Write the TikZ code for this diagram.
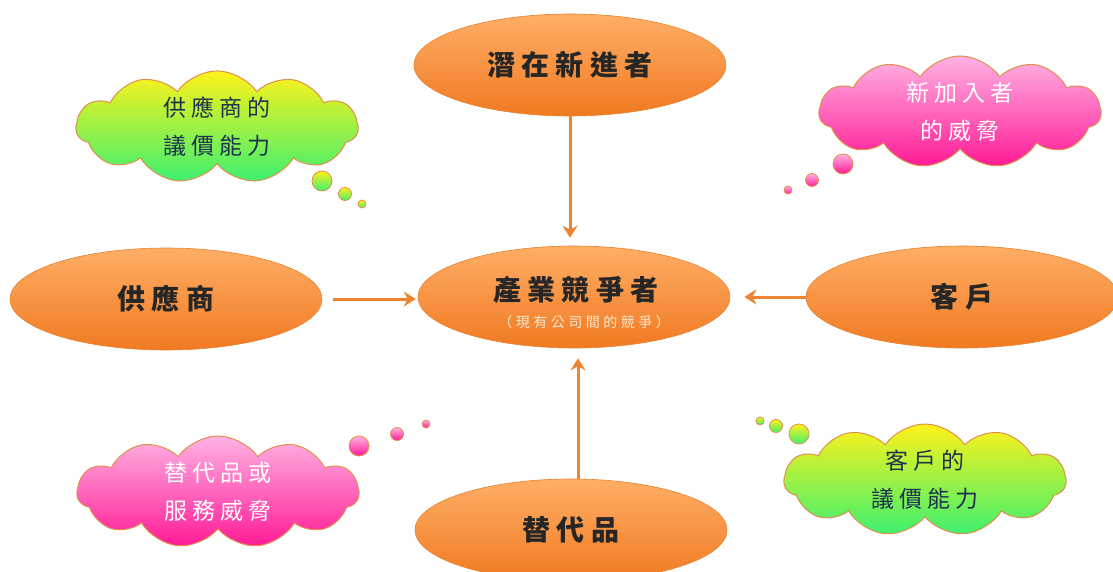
\documentclass[tikz,border=0pt]{standalone}
\usepackage{fontspec}
\setmainfont{Noto Sans CJK TC}
\usetikzlibrary{shapes.geometric,shapes.symbols,arrows.meta}
\definecolor{orA}{HTML}{FFAE66}
\definecolor{orB}{HTML}{F07A22}
\definecolor{orEdge}{HTML}{E8822E}
\definecolor{arrowc}{HTML}{EC8432}
\definecolor{yelT}{HTML}{FFF21A}
\definecolor{grnB}{HTML}{3CF070}
\definecolor{pinkT}{HTML}{FFB3E3}
\definecolor{pinkB}{HTML}{FF1A96}
\definecolor{cloudEdge}{HTML}{E0904A}
\definecolor{darktxt}{HTML}{1E3350}
\tikzset{
  bigtxt/.style={font=\bfseries\fontsize{28}{30}\selectfont\addfontfeature{LetterSpace=22}, text=black!85},
  force/.style={ellipse, draw=orEdge, line width=0.6pt, top color=orA, bottom color=orB,
    minimum width=312, minimum height=102, inner sep=0pt, bigtxt},
  ycloud/.style={cloud, cloud puffs=11, cloud puff arc=110, aspect=2.5, draw=cloudEdge, line width=1pt,
    top color=yelT, bottom color=grnB, minimum width=282, minimum height=112, inner sep=0pt,
    text=darktxt, align=center, font=\fontsize{23}{38}\selectfont\addfontfeature{LetterSpace=22}},
  pcloud/.style={ycloud, top color=pinkT, bottom color=pinkB, text=white},
  ybub/.style={circle, draw=cloudEdge, line width=0.8pt, top color=yelT, bottom color=grnB, inner sep=0pt},
  pbub/.style={circle, draw=cloudEdge, line width=0.8pt, top color=pinkT, bottom color=pinkB, inner sep=0pt},
  conn/.style={draw=arrowc, line width=3pt, -{Stealth[length=12pt,width=15pt,inset=4pt]}}
}
\begin{document}
\begin{tikzpicture}[x=1pt,y=-1pt]
\useasboundingbox (0,0) rectangle (1113,572);
\fill[white] (0,0) rectangle (1113,572);
% forces
\node[force] (top) at (570,65) {潛在新進者};
\node[force] (mid) at (574,297) {};
\node[bigtxt] (midt) at (576,290) {產業競爭者};
\node[font=\fontsize{14}{16}\selectfont\addfontfeature{LetterSpace=25}, text=white!82!orange] (mids) at (584,322) {（現有公司間的競爭）};
\node[force] (left) at (166,299) {供應商};
\node[force] (right) at (962,297) {客戶};
\node[force] (bot) at (571,530) {替代品};
% connectors
\draw[conn, shorten >=8pt] (top.south) -- (top.south |- mid.north);
\draw[conn, shorten <=11pt, shorten >=2pt] (left.east) -- (left.east -| mid.west);
\draw[conn, shorten >=14pt] (right.west) -- (right.west -| mid.east);
\draw[conn, shorten >=10pt] ([xshift=7pt]bot.north) -- ([xshift=7pt]bot.north |- mid.south);
% clouds
\node[ycloud] (c1) at (217,127) {供應商的\\議價能力};
\node[ybub, minimum size=20] (b11) at (322,181) {};
\node[ybub, minimum size=13] (b12) at (345,194) {};
\node[ybub, minimum size=8] (b13) at (362,204) {};
\node[pcloud] (c2) at (960,112) {新加入者\\的威脅};
\node[pbub, minimum size=20] (b21) at (843,164) {};
\node[pbub, minimum size=13] (b22) at (812,180) {};
\node[pbub, minimum size=8] (b23) at (788,190) {};
\node[pcloud] (c3) at (218,492) {替代品或\\服務威脅};
\node[pbub, minimum size=20] (b31) at (359,446) {};
\node[pbub, minimum size=13] (b32) at (397,434) {};
\node[pbub, minimum size=8] (b33) at (426,424) {};
\node[ycloud] (c4) at (925,480) {客戶的\\議價能力};
\node[ybub, minimum size=20] (b41) at (799,434) {};
\node[ybub, minimum size=13] (b42) at (776,426) {};
\node[ybub, minimum size=8] (b43) at (760,421) {};
\end{tikzpicture}
\end{document}
